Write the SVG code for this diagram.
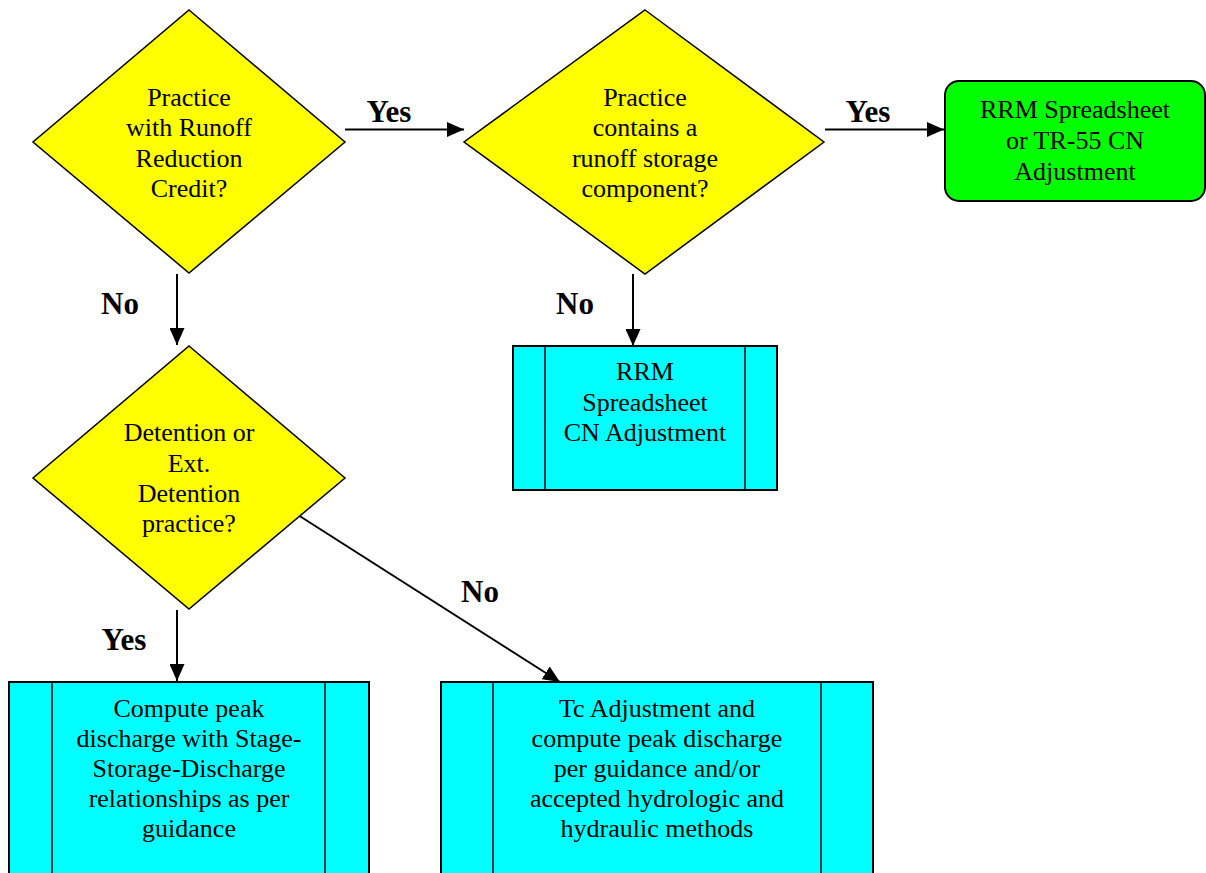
<svg xmlns="http://www.w3.org/2000/svg" width="1206" height="873" viewBox="0 0 1206 873">
<style>
.dia{fill:#ffff00;stroke:#000;stroke-width:1.5}
.proc{fill:#00ffff;stroke:#000;stroke-width:2}
.div{stroke:#000;stroke-width:1.5;fill:none}
.term{fill:#00ff00;stroke:#000;stroke-width:2}
.t{font-family:"Liberation Serif","Times New Roman",serif;font-size:26px;fill:#000;text-anchor:middle}
.lbl{font-family:"Liberation Serif","Times New Roman",serif;font-size:31px;font-weight:bold;fill:#000;text-anchor:middle}
.con{stroke:#000;stroke-width:2;fill:none;marker-end:url(#ah)}
</style>
<defs>
<marker id="ah" markerWidth="17" markerHeight="15" refX="17" refY="7.5" orient="auto" markerUnits="userSpaceOnUse">
<path d="M0,0 L17,7.5 L0,15 Z" fill="#000"/>
</marker>
</defs>
<rect width="1206" height="873" fill="#fff"/>
<g id="connectors">
<line class="con" x1="345" y1="129.5" x2="464" y2="129.5"/>
<line class="con" x1="825" y1="129.5" x2="944" y2="129.5"/>
<line class="con" x1="177" y1="274" x2="177" y2="345"/>
<line class="con" x1="633" y1="274" x2="633" y2="346"/>
<line class="con" x1="177" y1="610" x2="177" y2="681"/>
<line class="con" x1="298" y1="515" x2="560" y2="682"/>
<text class="lbl" x="389" y="122">Yes</text>
<text class="lbl" x="868" y="122">Yes</text>
<text class="lbl" x="120" y="314">No</text>
<text class="lbl" x="575" y="314">No</text>
<text class="lbl" x="124" y="650">Yes</text>
<text class="lbl" x="480" y="602">No</text>
</g>
<g id="d1">
<polygon class="dia" points="189,10 345,142 189,273 33,142"/>
<text class="t" x="189" y="106">Practice</text>
<text class="t" x="189" y="136">with Runoff</text>
<text class="t" x="189" y="167">Reduction</text>
<text class="t" x="189" y="197">Credit?</text>
</g>
<g id="d2">
<polygon class="dia" points="645,10 824,142 645,274 464,142"/>
<text class="t" x="645" y="106">Practice</text>
<text class="t" x="645" y="136">contains a</text>
<text class="t" x="645" y="167">runoff storage</text>
<text class="t" x="645" y="197">component?</text>
</g>
<g id="rrmTR55">
<rect class="term" x="945" y="81" width="260" height="120" rx="14" ry="14"/>
<text class="t" x="1075" y="118">RRM Spreadsheet</text>
<text class="t" x="1075" y="149">or TR-55 CN</text>
<text class="t" x="1075" y="180">Adjustment</text>
</g>
<g id="rrmCN">
<rect class="proc" x="513" y="346" width="264" height="144"/>
<line class="div" x1="545" y1="346" x2="545" y2="490"/>
<line class="div" x1="745" y1="346" x2="745" y2="490"/>
<text class="t" x="645" y="380">RRM</text>
<text class="t" x="645" y="411">Spreadsheet</text>
<text class="t" x="645" y="441">CN Adjustment</text>
</g>
<g id="d3">
<polygon class="dia" points="189,346 345,478 189,609 33,478"/>
<text class="t" x="189" y="441">Detention or</text>
<text class="t" x="189" y="472">Ext.</text>
<text class="t" x="189" y="502">Detention</text>
<text class="t" x="189" y="532">practice?</text>
</g>
<g id="stage">
<rect class="proc" x="9" y="682" width="360" height="200"/>
<line class="div" x1="52" y1="682" x2="52" y2="882"/>
<line class="div" x1="325" y1="682" x2="325" y2="882"/>
<text class="t" x="189" y="717">Compute peak</text>
<text class="t" x="189" y="747">discharge with Stage-</text>
<text class="t" x="189" y="777">Storage-Discharge</text>
<text class="t" x="189" y="807">relationships as per</text>
<text class="t" x="189" y="837">guidance</text>
</g>
<g id="tc">
<rect class="proc" x="441" y="682" width="432" height="200"/>
<line class="div" x1="493" y1="682" x2="493" y2="882"/>
<line class="div" x1="821" y1="682" x2="821" y2="882"/>
<text class="t" x="657" y="717">Tc Adjustment and</text>
<text class="t" x="657" y="747">compute peak discharge</text>
<text class="t" x="657" y="777">per guidance and/or</text>
<text class="t" x="657" y="807">accepted hydrologic and</text>
<text class="t" x="657" y="837">hydraulic methods</text>
</g>
</svg>
